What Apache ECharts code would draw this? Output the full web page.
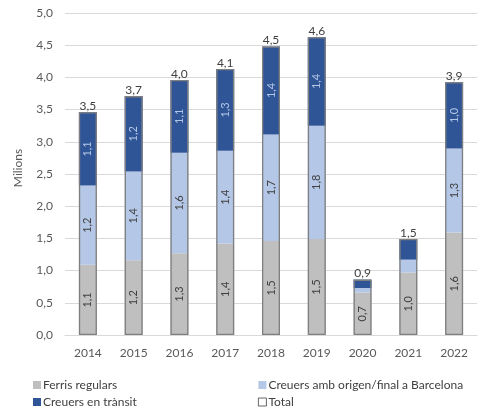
<!DOCTYPE html>
<html><head><meta charset="utf-8">
<script src="https://cdn.jsdelivr.net/npm/echarts@6/dist/echarts.min.js"></script>
<style>html,body{margin:0;padding:0;background:#fff}#c{width:481px;height:410px}</style>
</head><body><div id="c"></div>
<script>
const years = ['2014','2015','2016','2017','2018','2019','2020','2021','2022'];
const ferris = [1.09, 1.16, 1.27, 1.42, 1.46, 1.49, 0.66, 0.97, 1.59];
const origen = [1.23, 1.38, 1.56, 1.44, 1.655, 1.76, 0.07, 0.20, 1.305];
const transit = [1.14, 1.17, 1.13, 1.27, 1.366, 1.375, 0.13, 0.32, 1.03];
const yTicks = ['0,0','0,5','1,0','1,5','2,0','2,5','3,0','3,5','4,0','4,5','5,0'];
const total = years.map((_, i) => ferris[i] + origen[i] + transit[i]);

const FONT = 'Lato';
const fmt = v => v.toFixed(1).replace('.', ',');
function segLabel(color) {
  return {
    show: true, position: 'inside', rotate: 90, color: color,
    fontFamily: FONT, fontSize: 11,
    formatter: p => (p.value >= 0.4 ? fmt(p.value) : '')
  };
}
const legText = { fontFamily: FONT, fontSize: 12, color: '#404040', lineHeight: 14, padding: [0,0,0,-3] };
const chart = echarts.init(document.getElementById('c'));
chart.setOption({
  animation: false,
  grid: { left: 65, right: 4, top: 13, bottom: 75, containLabel: false },
  legend: [
    { data: ['Ferris regulars', 'Creuers en trànsit'], orient: 'vertical', left: 33, top: 378, height: 32,
      padding: 0, itemWidth: 8, itemHeight: 8, itemGap: 3, icon: 'rect', textStyle: legText },
    { data: ['Creuers amb origen/final a Barcelona',
             { name: 'Total', itemStyle: { color: '#ffffff', borderColor: '#404040', borderWidth: 0.8 } }],
      orient: 'vertical', left: 258, top: 378, height: 32,
      padding: 0, itemWidth: 8, itemHeight: 8, itemGap: 3, icon: 'rect', textStyle: legText }
  ],
  graphic: [{
    type: 'text', x: 18, y: 168, rotation: Math.PI / 2,
    style: { text: 'Milions', fontFamily: FONT, fontSize: 12, fill: '#595959', align: 'center', verticalAlign: 'middle' }
  }],
  xAxis: {
    type: 'category', data: years,
    axisLine: { lineStyle: { color: '#d9d9d9' } }, axisTick: { show: false },
    axisLabel: { fontFamily: FONT, fontSize: 12, color: '#595959', margin: 12 }
  },
  yAxis: {
    type: 'value', min: 0, max: 5, interval: 0.5,
    axisLine: { show: false }, axisTick: { show: false },
    splitLine: { lineStyle: { color: '#d9d9d9' } },
    axisLabel: { fontFamily: FONT, fontSize: 12, color: '#595959', margin: 12,
      formatter: v => yTicks[Math.round(v * 2)] }
  },
  series: [
    { name: 'Ferris regulars', type: 'bar', stack: 's', data: ferris, barWidth: 18,
      itemStyle: { color: '#bfbfbf' }, label: segLabel('#404040') },
    { name: 'Creuers amb origen/final a Barcelona', type: 'bar', stack: 's', data: origen, barWidth: 18,
      itemStyle: { color: '#b4c7e7' }, label: segLabel('#404040') },
    { name: 'Creuers en trànsit', type: 'bar', stack: 's', data: transit, barWidth: 18,
      itemStyle: { color: '#2f5597' }, label: segLabel('#b4c7e7') },
    { name: 'Total', type: 'bar', data: total, barWidth: 18, barGap: '-100%', z: 5,
      itemStyle: { color: 'rgba(255,255,255,0)', borderColor: '#7f7f7f', borderWidth: 1.3 },
      label: { show: true, position: 'top', distance: 0, color: '#404040', fontFamily: FONT, fontSize: 12,
        formatter: p => fmt(p.value) } }
  ]
});
</script></body></html>
